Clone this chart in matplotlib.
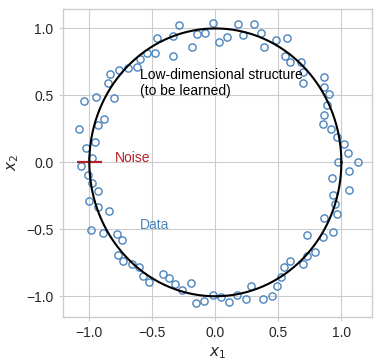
import numpy as np
import matplotlib
matplotlib.use("Agg")
import matplotlib.pyplot as plt

plt.style.use("seaborn-v0_8-whitegrid")
plt.rcParams['font.family'] = ['Liberation Sans', 'DejaVu Sans']

# Noisy data points around the unit circle
x1 = [-0.288, -0.021, -0.465, -0.333, -0.143, -0.079, 0.032, -0.187, -0.476, -0.338,
      -0.540, -0.595, -0.619, -0.690, -0.762, -0.836, -0.854, -0.947, -1.040, -0.802,
      -0.881, -0.933, -1.082, -0.955, -1.029, -0.981, -1.068,
      0.095, 0.178, 0.222, 0.310, 0.363, 0.387, 0.482, 0.567, 0.553,
      0.595, 0.683, 0.698, 0.694, 0.860, 0.865, 0.902, 0.884, 0.860,
      0.852, 0.916, 0.963, 1.024, 1.056, 1.135, 0.976,
      1.059, 0.924, 0.937, 0.950, 1.061, 0.968, 0.863, 0.937, 0.857,
      0.730, 0.791, 0.728, 0.694, 0.593, 0.545, 0.521, 0.487, 0.281,
      0.450, 0.381, 0.244, 0.170, 0.109, 0.043, -0.021,
      -1.008, -0.981, -0.929, -1.002, -0.929, -0.841, -0.987, -0.889, -0.783,
      -0.743, -0.775, -0.730, -0.663, -0.603, -0.571, -0.526, -0.417, -0.367,
      -0.320, -0.267, -0.193, -0.156, -0.090]
x2 = [1.028, 1.040, 0.926, 0.941, 0.956, 0.963, 0.899, 0.864, 0.820, 0.797,
      0.820, 0.772, 0.710, 0.703, 0.686, 0.658, 0.591, 0.487, 0.457, 0.479,
      0.323, 0.276, 0.248, 0.154, 0.104, 0.034, -0.030,
      0.936, 1.036, 0.951, 1.036, 0.969, 0.864, 0.911, 0.926, 0.792,
      0.747, 0.750, 0.675, 0.593, 0.641, 0.559, 0.509, 0.425, 0.350,
      0.285, 0.246, 0.191, 0.136, 0.069, 0.002, 0.002,
      -0.065, -0.115, -0.244, -0.308, -0.204, -0.387, -0.415, -0.519, -0.554,
      -0.542, -0.668, -0.700, -0.756, -0.735, -0.778, -0.857, -0.920, -0.927,
      -1.001, -1.019, -1.024, -0.989, -1.043, -1.006, -0.994,
      -0.095, -0.156, -0.212, -0.291, -0.335, -0.365, -0.504, -0.527, -0.534,
      -0.581, -0.689, -0.733, -0.758, -0.782, -0.849, -0.897, -0.832, -0.864,
      -0.912, -0.952, -0.902, -1.048, -1.034]

# Low-dimensional structure: unit circle
theta = np.linspace(0, 2 * np.pi, 400)
circle_x = np.cos(theta)
circle_y = np.sin(theta)

# Noise segment
noise_x = [-1.1, -0.9]
noise_y = [0.0, 0.0]

blue = '#4a84bd'
red = '#b5202a'

fig = plt.figure(figsize=(3.82, 3.64), dpi=100)
ax = fig.add_axes([0.164, 0.130, 0.811, 0.845])

ax.plot(x1, x2, 'o', mfc='none', mec=blue, ms=5.2, mew=1.0, zorder=3)
ax.plot(noise_x, noise_y, color=red, lw=1.6, solid_capstyle='butt', zorder=4)
ax.plot(circle_x, circle_y, color='black', lw=1.5, zorder=5)

ax.text(-0.6, 0.5, 'Low-dimensional structure\n(to be learned)', color='black', fontsize=10)
ax.text(-0.8, 0.0, 'Noise', color=red, fontsize=10)
ax.text(-0.6, -0.5, 'Data', color=blue, fontsize=10)

ax.set_xlabel('$x_1$', fontsize=11)
ax.set_ylabel('$x_2$', fontsize=11)
ax.set_xticks([-1.0, -0.5, 0.0, 0.5, 1.0])
ax.set_yticks([-1.0, -0.5, 0.0, 0.5, 1.0])
ax.tick_params(length=3, color='0.8', labelsize=10)

fig.savefig('out.png', dpi=100)
